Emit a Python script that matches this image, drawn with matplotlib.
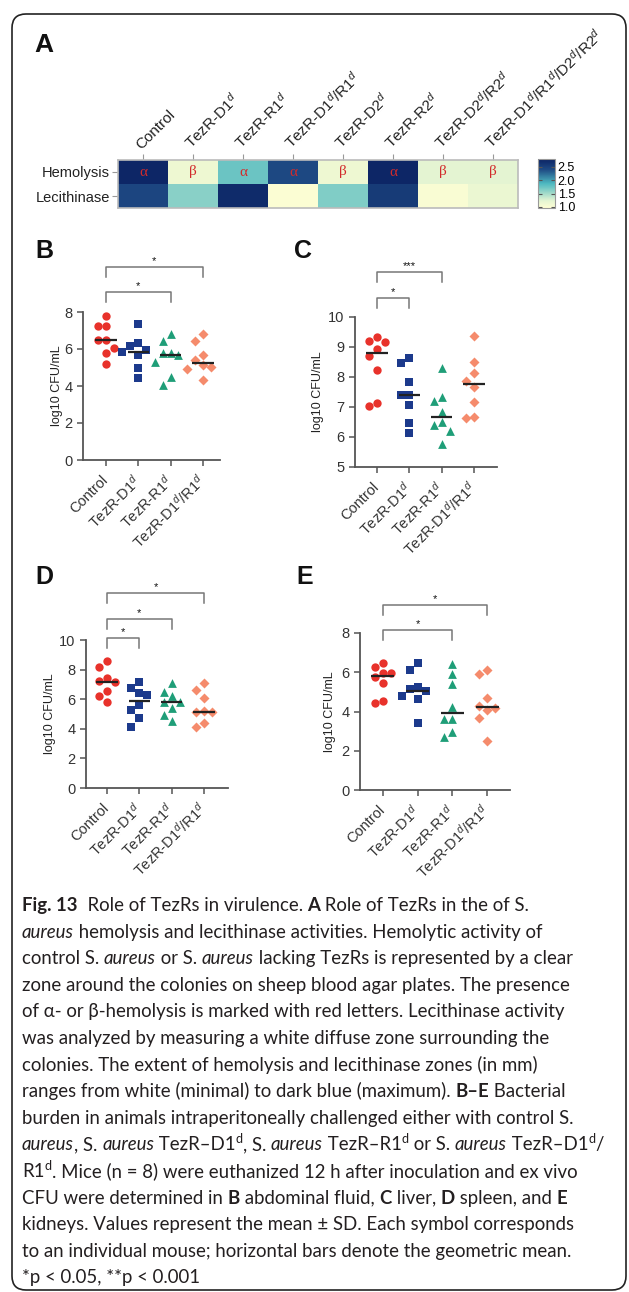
import numpy as np
import matplotlib
matplotlib.use("Agg")
import matplotlib.pyplot as plt
from matplotlib.colors import LinearSegmentedColormap
from matplotlib.patches import FancyBboxPatch
from matplotlib.font_manager import FontProperties

W, H = 629, 1292
plt.rcParams.update({"font.family": ["Liberation Sans", "DejaVu Sans"],
                     "mathtext.fontset": "custom", "mathtext.rm": "Liberation Sans",
                     "mathtext.it": "Liberation Sans:italic", "mathtext.bf": "Liberation Sans:bold"})

# ---------------- data ----------------
strains = ["Control", "TezR-D1$^d$", "TezR-R1$^d$", "TezR-D1$^d$/R1$^d$", "TezR-D2$^d$",
           "TezR-R2$^d$", "TezR-D2$^d$/R2$^d$", "TezR-D1$^d$/R1$^d$/D2$^d$/R2$^d$"]
assays = ["Hemolysis", "Lecithinase"]
hemolysis = [2.75, 1.12, 1.75, 2.42, 1.12, 2.75, 1.22, 1.22]
lecithinase = [2.45, 1.62, 2.70, 1.00, 1.65, 2.55, 1.02, 1.15]
hemo_type = ["α", "β", "α", "α", "β", "α", "β", "β"]

groups = ["Control", "TezR-D1$^d$", "TezR-R1$^d$", "TezR-D1$^d$/R1$^d$"]

fluid = [[7.76, 7.22, 7.22, 6.46, 6.46, 6.07, 5.78, 5.20],
         [7.36, 6.32, 6.14, 5.95, 5.83, 5.65, 4.98, 4.44],
         [6.82, 6.43, 5.79, 5.79, 5.65, 5.29, 4.51, 4.03],
         [6.79, 6.43, 5.70, 5.38, 5.14, 5.05, 4.93, 4.30]]
fluid_mean = [6.46, 5.83, 5.69, 5.25]

liver = [[9.34, 9.21, 9.18, 8.92, 8.70, 8.23, 7.14, 7.03],
         [8.62, 8.46, 7.84, 7.40, 7.40, 7.07, 6.46, 6.14],
         [8.29, 7.32, 7.21, 6.84, 6.51, 6.40, 6.21, 5.77],
         [9.37, 8.51, 8.12, 7.88, 7.66, 7.18, 6.68, 6.62]]
liver_mean = [8.81, 7.40, 6.68, 7.77]

spleen = [[8.58, 8.15, 7.41, 7.23, 7.18, 6.58, 6.22, 5.83],
          [7.18, 6.78, 6.40, 6.28, 5.60, 5.27, 4.70, 4.10],
          [7.12, 6.51, 6.22, 5.83, 5.83, 5.38, 4.93, 4.55],
          [7.12, 6.62, 6.06, 5.23, 5.16, 5.16, 4.37, 4.14]]
spleen_mean = [7.18, 5.90, 5.83, 5.16]

kidney = [[6.49, 6.25, 5.94, 5.94, 5.74, 5.43, 4.52, 4.45],
          [6.45, 6.11, 5.23, 5.13, 5.06, 4.79, 4.62, 3.40],
          [6.40, 5.91, 5.40, 4.21, 3.60, 3.60, 2.94, 2.72],
          [6.11, 5.89, 4.67, 4.28, 4.19, 4.07, 3.65, 2.51]]
kidney_mean = [5.81, 5.06, 3.94, 4.24]

sig_fluid = [(0, 2, "*"), (0, 3, "*")]
sig_liver = [(0, 1, "*"), (0, 2, "***")]
sig_spleen = [(0, 1, "*"), (0, 2, "*"), (0, 3, "*")]
sig_kidney = [(0, 2, "*"), (0, 3, "*")]

CAPTION = [
    [("Fig. 13", "b"), ("  Role of TezRs in virulence. ", "r"), ("A", "b"), (" Role of TezRs in the of S.", "r")],
    [("aureus", "i"), (" hemolysis and lecithinase activities. Hemolytic activity of", "r")],
    [("control S. ", "r"), ("aureus", "i"), (" or S. ", "r"), ("aureus", "i"), (" lacking TezRs is represented by a clear", "r")],
    [("zone around the colonies on sheep blood agar plates. The presence", "r")],
    [("of α- or β-hemolysis is marked with red letters. Lecithinase activity", "r")],
    [("was analyzed by measuring a white diffuse zone surrounding the", "r")],
    [("colonies. The extent of hemolysis and lecithinase zones (in mm)", "r")],
    [("ranges from white (minimal) to dark blue (maximum). ", "r"), ("B–E", "b"), (" Bacterial", "r")],
    [("burden in animals intraperitoneally challenged either with control S.", "r")],
    [("aureus", "i"), (", S. ", "r"), ("aureus", "i"), (" TezR–D1", "r"), ("d", "s"), (", S. ", "r"), ("aureus", "i"),
     (" TezR–R1", "r"), ("d", "s"), (" or S. ", "r"), ("aureus", "i"), (" TezR–D1", "r"), ("d", "s"), ("/", "r")],
    [("R1", "r"), ("d", "s"), (". Mice (n = 8) were euthanized 12 h after inoculation and ex vivo", "r")],
    [("CFU were determined in ", "r"), ("B", "b"), (" abdominal fluid, ", "r"), ("C", "b"), (" liver, ", "r"),
     ("D", "b"), (" spleen, and ", "r"), ("E", "b")],
    [("kidneys. Values represent the mean ± SD. Each symbol corresponds", "r")],
    [("to an individual mouse; horizontal bars denote the geometric mean.", "r")],
    [("*p < 0.05, **p < 0.001", "r")],
]

# ---------------- style ----------------
MARKERS = ["o", "s", "^", "D"]
COLORS = ["#e8322b", "#1c3a8c", "#1f9e78", "#f58b6c"]
MSIZE = [36, 34, 40, 26]
cmap = LinearSegmentedColormap.from_list("zone", [(0, "#ffffd4"), (0.15, "#e3f4d2"), (0.38, "#7fcdc6"),
                                                  (0.5, "#4db8c0"), (0.78, "#1f4c85"), (1, "#0b2263")])

fig = plt.figure(figsize=(W / 100, H / 100), dpi=100)


def px_axes(l, t, r, b):
    return fig.add_axes([l / W, 1 - b / H, (r - l) / W, (b - t) / H])


def swarm(vals, sx, sy, d=7.9, thr=9.5):
    vals = np.asarray(vals, float)
    placed, offs = [], np.zeros(len(vals))
    for i in np.argsort(-vals, kind="stable"):
        y = vals[i] * sy
        for k in (0, -1, 1, -2, 2):
            x = k * d
            if all(abs(x - px) > 0.9 * d or abs(y - py) > thr for px, py in placed):
                break
        placed.append((x, y)); offs[i] = x / sx
    return offs


# ---------------- panel A: heatmap ----------------
hx = px_axes(118, 160, 518, 208)
im = hx.imshow(np.array([hemolysis, lecithinase]), cmap=cmap, vmin=0.96, vmax=2.8, aspect="auto",
               interpolation="nearest")
hx.xaxis.tick_top()
hx.set_xticks(range(len(strains)))
hx.set_xticklabels(strains, rotation=45, ha="left", va="bottom", rotation_mode="anchor",
                   fontsize=11, color="#222")
hx.set_yticks(range(len(assays)))
hx.set_yticklabels(assays, fontsize=10.5, color="#222")
hx.tick_params(length=4, color="#999", pad=2)
for s in hx.spines.values():
    s.set_color("#bbb"); s.set_linewidth(1.2)
for i, t in enumerate(hemo_type):
    hx.text(i, 0, t, ha="center", va="center", color="#d22b2b", fontsize=11,
            family=["Liberation Serif", "DejaVu Serif"])

cax = px_axes(538, 159, 555, 208)
cb = fig.colorbar(im, cax=cax, ticks=[1.0, 1.5, 2.0, 2.5], format="%.1f")
cb.ax.tick_params(labelsize=9, direction="in", length=3, left=True, right=True, color="#555", pad=2)
cb.outline.set_edgecolor("#999")

# ---------------- panels B-E: scatter ----------------
PANELS = [
    # letter, data, means, sig, axes px (l,t,r,b), ylim, yticks, xlim, bracket bar px, ylabel offset px
    ("B", fluid, fluid_mean, sig_fluid, (83, 312, 220, 460), (0, 8), [0, 2, 4, 6, 8], (-0.71, 3.53), [292, 267], 20),
    ("C", liver, liver_mean, sig_liver, (355, 317, 497, 467), (5, 10), [5, 6, 7, 8, 9, 10], (-0.68, 3.71), [298, 272], 31),
    ("D", spleen, spleen_mean, sig_spleen, (86, 640, 228, 788), (0, 10), [0, 2, 4, 6, 8, 10], (-0.65, 3.74), [638, 619, 593], 30),
    ("E", kidney, kidney_mean, sig_kidney, (360, 633, 510, 790), (0, 8), [0, 2, 4, 6, 8], (-0.66, 3.66), [630, 605], 24),
]
LETTER_POS = {"A": (34, 45), "B": (35, 251), "C": (294, 251), "D": (35, 577), "E": (296, 577)}

axes = []
for letter, data, means, sig, box, ylim, yticks, xlim, bars, yloff in PANELS:
    ax = px_axes(*box)
    ax.set_xlim(*xlim); ax.set_ylim(*ylim)
    sx = (box[2] - box[0]) / (xlim[1] - xlim[0]); sy = (box[3] - box[1]) / (ylim[1] - ylim[0])
    for g, vals in enumerate(data):
        offs = swarm(vals, sx, sy)
        ax.scatter(g + offs, vals, marker=MARKERS[g], s=MSIZE[g], color=COLORS[g], linewidths=0,
                   zorder=3, clip_on=False)
        ax.plot([g - 0.33, g + 0.33], [means[g]] * 2, color="#222", lw=1.6, zorder=4, solid_capstyle="butt")
    ax.set_yticks(yticks)
    ax.set_xticks(range(len(groups)))
    ax.set_xticklabels(groups, rotation=45, ha="right", va="center", rotation_mode="anchor",
                       fontsize=10, color="#333")
    for s in ("top", "right"):
        ax.spines[s].set_visible(False)
    for s in ("left", "bottom"):
        ax.spines[s].set_color("#555"); ax.spines[s].set_linewidth(1.3)
    ax.tick_params(length=4, width=1.1, color="#555", labelsize=10.5, labelcolor="#333")
    ax.tick_params(axis="x", pad=9)
    ax.patch.set_alpha(0)
    ax.set_ylabel("log10 CFU/mL", fontsize=9, color="#222")
    ax.yaxis.set_label_coords(-yloff / (box[2] - box[0]), 0.5)
    axes.append((ax, sig, bars))

# ---------------- page overlay: border, letters, brackets, caption ----------------
page = fig.add_axes([0, 0, 1, 1])
page.set_xlim(0, W); page.set_ylim(H, 0); page.axis("off"); page.set_zorder(10)
page.add_patch(FancyBboxPatch((12, 14), 614, 1276, boxstyle="round,pad=0,rounding_size=14",
                              fill=False, ec="#222", lw=1.2))
for k, (x, y) in LETTER_POS.items():
    page.text(x, y, k, fontsize=19 if k == "A" else 18, weight="bold", ha="left", va="center", color="#111")

for ax, sig, bars in axes:
    y0 = ax.get_ylim()[0]
    for (i, j, lab), yb in zip(sig, bars):
        x0 = ax.transData.transform((i, y0))[0]; x1 = ax.transData.transform((j, y0))[0]
        page.plot([x0, x0, x1, x1], [yb + 10, yb, yb, yb + 10], color="#777", lw=1.1)
        page.text((x0 + x1) / 2, yb - 3, lab, ha="center", va="baseline", fontsize=8, color="#111")

renderer = fig.canvas.get_renderer()
CFAM = ["Lato", "DejaVu Sans"]


def fprop(style, fs):
    return FontProperties(family=CFAM, size=fs * (0.68 if style == "s" else 1),
                          weight="bold" if style == "b" else "normal",
                          style="italic" if style == "i" else "normal")


def run_width(text, style, fs):
    p = fprop(style, fs)
    w = renderer.get_text_width_height_descent(text + "|", p, ismath=False)[0]
    return w - renderer.get_text_width_height_descent("|", p, ismath=False)[0]


def line_width(line, fs):
    return sum(run_width(t, s, fs) for t, s in line)


# fit the caption size so the two widest lines end where they do in the figure
fs = min(12 * 580 / line_width(CAPTION[3], 12), 12 * 582 / line_width(CAPTION[9], 12))
for n, line in enumerate(CAPTION):
    x, yb = 22, 911 + 26.6 * n
    for text, style in line:
        dy = -0.4 * fs * 100 / 72 if style == "s" else 0
        page.text(x, yb + dy, text, fontproperties=fprop(style, fs), ha="left", va="baseline", color="#231f20")
        x += run_width(text, style, fs)

fig.savefig("out.png", dpi=100)
